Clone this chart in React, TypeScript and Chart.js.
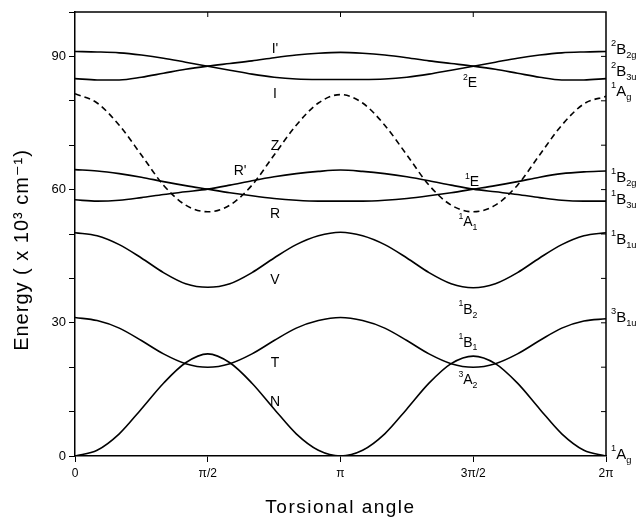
import { useEffect, useRef } from "react";
import { Chart, registerables } from "chart.js";

Chart.register(...registerables);

// Torsional angle in degrees (0 .. 2π)
const angles = [0, 15, 30, 45, 60, 75, 90, 105, 120, 135, 150, 165, 180, 195, 210, 225, 240, 255, 270, 285, 300, 315, 330, 345, 360];

// Energies (x 10^3 cm^-1)
const N = [0, 1.3, 5.0, 10.6, 16.4, 21.0, 23.0, 21.0, 16.4, 10.6, 5.0, 1.3, 0, 1.3, 5.0, 10.6, 16.4, 20.8, 22.5, 20.8, 16.4, 10.6, 5.0, 1.3, 0];
const T = [31.2, 30.5, 28.8, 26.0, 23.0, 20.8, 20.0, 20.8, 23.0, 26.0, 28.8, 30.5, 31.2, 30.5, 28.8, 26.0, 23.0, 20.8, 20.0, 20.8, 23.0, 26.0, 28.8, 30.4, 30.9];
const V = [50.3, 49.6, 47.6, 44.6, 41.3, 38.8, 38.0, 38.8, 41.3, 44.6, 47.6, 49.6, 50.4, 49.6, 47.6, 44.6, 41.3, 38.8, 37.9, 38.8, 41.3, 44.6, 47.6, 49.6, 50.3];
const Z = [81.6, 79.5, 74.5, 67.8, 61.0, 56.5, 55.0, 56.5, 61.0, 67.8, 74.5, 79.5, 81.4, 79.5, 74.5, 67.8, 61.0, 56.5, 55.0, 56.5, 61.0, 67.8, 74.5, 79.3, 81.0];
const Rp = [64.5, 64.2, 63.6, 62.8, 61.8, 60.9, 60.1, 59.3, 58.6, 58.0, 57.6, 57.4, 57.4, 57.4, 57.6, 58.0, 58.6, 59.3, 60.1, 60.9, 61.8, 62.8, 63.6, 64.0, 64.2];
const R = [57.7, 57.4, 57.6, 58.2, 58.9, 59.5, 60.1, 61.0, 62.0, 62.9, 63.6, 64.1, 64.4, 64.1, 63.6, 62.9, 62.0, 61.0, 60.1, 59.5, 58.9, 58.2, 57.6, 57.4, 57.4];
const Ip = [91.1, 91.0, 90.8, 90.3, 89.6, 88.7, 87.8, 86.9, 86.0, 85.3, 84.9, 84.8, 84.8, 84.8, 84.9, 85.3, 86.0, 86.9, 87.8, 88.7, 89.6, 90.3, 90.8, 91.0, 91.1];
const I = [85.0, 84.7, 84.7, 85.3, 86.2, 87.1, 87.8, 88.4, 89.0, 89.7, 90.3, 90.7, 90.9, 90.7, 90.3, 89.7, 89.0, 88.4, 87.8, 87.1, 86.2, 85.3, 84.7, 84.7, 85.0];

// Axis ticks
const xTickValues = [0, 90, 180, 270, 360];
const xTickLabels = ["0", "π/2", "π", "3π/2", "2π"];
const yLabelledTicks = [0, 30, 60, 90];

// Curve labels inside the plot (data coordinates)
const curveLabelText = [
  { sup: "", main: "I'", sub: "" },
  { sup: "", main: "I", sub: "" },
  { sup: "", main: "Z", sub: "" },
  { sup: "", main: "R'", sub: "" },
  { sup: "", main: "R", sub: "" },
  { sup: "", main: "V", sub: "" },
  { sup: "", main: "T", sub: "" },
  { sup: "", main: "N", sub: "" },
  { sup: "2", main: "E", sub: "" },
  { sup: "1", main: "E", sub: "" },
  { sup: "1", main: "A", sub: "1" },
  { sup: "1", main: "B", sub: "2" },
  { sup: "1", main: "B", sub: "1" },
  { sup: "3", main: "A", sub: "2" },
];
const curveLabelX = [135.6, 135.6, 135.6, 111.9, 135.6, 135.6, 135.6, 135.6, 267.8, 269.2, 266.4, 266.4, 266.4, 266.4];
const curveLabelY = [91.6, 81.4, 69.9, 64.1, 54.4, 39.7, 21.0, 12.2, 83.9, 61.6, 52.6, 32.9, 25.5, 17.1];

// State labels at the right edge (2π)
const stateLabelText = [
  { sup: "2", main: "B", sub: "2g" },
  { sup: "2", main: "B", sub: "3u" },
  { sup: "1", main: "A", sub: "g" },
  { sup: "1", main: "B", sub: "2g" },
  { sup: "1", main: "B", sub: "3u" },
  { sup: "1", main: "B", sub: "1u" },
  { sup: "3", main: "B", sub: "1u" },
  { sup: "1", main: "A", sub: "g" },
];
const stateLabelY = [91.4, 86.6, 82.1, 62.7, 57.7, 48.7, 31.1, 0.2];

const yTitle = "Energy ( x 10³ cm⁻¹)";
const xTitle = "Torsional angle";

const FONT = "'Liberation Sans', 'DejaVu Sans', sans-serif";

type Rich = { sup: string; main: string; sub: string };

function richWidth(ctx: CanvasRenderingContext2D, r: Rich, size: number) {
  ctx.font = `${size * 0.62}px ${FONT}`;
  const ws = r.sup ? ctx.measureText(r.sup).width : 0;
  const wb = r.sub ? ctx.measureText(r.sub).width : 0;
  ctx.font = `${size}px ${FONT}`;
  const wm = ctx.measureText(r.main).width;
  return { ws, wm, wb, total: ws + wm + wb };
}

function drawRich(ctx: CanvasRenderingContext2D, r: Rich, x: number, y: number, size: number, align: "left" | "center") {
  const w = richWidth(ctx, r, size);
  let cx = align === "center" ? x - w.total / 2 : x;
  ctx.textAlign = "left";
  ctx.textBaseline = "middle";
  ctx.fillStyle = "#000";
  if (r.sup) {
    ctx.font = `${size * 0.62}px ${FONT}`;
    ctx.fillText(r.sup, cx, y - size * 0.42);
    cx += w.ws;
  }
  ctx.font = `${size}px ${FONT}`;
  ctx.fillText(r.main, cx, y);
  cx += w.wm;
  if (r.sub) {
    ctx.font = `${size * 0.62}px ${FONT}`;
    ctx.fillText(r.sub, cx, y + size * 0.38);
  }
}

const decorPlugin = {
  id: "decor",
  afterDraw(chart: any) {
    const { ctx, chartArea, scales } = chart;
    const xs = scales.x;
    const ys = scales.y;
    ctx.save();
    // top and right frame
    ctx.strokeStyle = "#000";
    ctx.lineWidth = 1.5;
    ctx.beginPath();
    ctx.moveTo(chartArea.left, chartArea.top);
    ctx.lineTo(chartArea.right, chartArea.top);
    ctx.lineTo(chartArea.right, chartArea.bottom);
    ctx.stroke();
    ctx.lineWidth = 1;
    // inward ticks on top
    ctx.beginPath();
    xTickValues.slice(1, -1).forEach((v) => {
      const px = xs.getPixelForValue(v);
      ctx.moveTo(px, chartArea.top);
      ctx.lineTo(px, chartArea.top + 5);
    });
    // inward ticks on right
    for (let v = 10; v < 100; v += 10) {
      const py = ys.getPixelForValue(v);
      ctx.moveTo(chartArea.right, py);
      ctx.lineTo(chartArea.right - 5, py);
    }
    ctx.stroke();

    // curve labels
    curveLabelText.forEach((r, i) => {
      drawRich(ctx, r, xs.getPixelForValue(curveLabelX[i]), ys.getPixelForValue(curveLabelY[i]), 14, "center");
    });
    // state labels at right
    stateLabelText.forEach((r, i) => {
      drawRich(ctx, r, chartArea.right + 5, ys.getPixelForValue(stateLabelY[i]), 15, "left");
    });

    // axis titles
    ctx.fillStyle = "#000";
    ctx.textAlign = "center";
    ctx.textBaseline = "middle";
    ctx.font = `19px ${FONT}`;
    (ctx as any).letterSpacing = "1.5px";
    ctx.fillText(xTitle, (chartArea.left + chartArea.right) / 2, 508);
    ctx.font = `20px ${FONT}`;
    (ctx as any).letterSpacing = "1px";
    ctx.save();
    ctx.translate(22, 250);
    ctx.rotate(-Math.PI / 2);
    ctx.fillText(yTitle, 0, 0);
    ctx.restore();
    (ctx as any).letterSpacing = "0px";
    ctx.restore();
  },
};

function mk(values: number[], dashed = false) {
  return {
    data: angles.map((a, i) => ({ x: a, y: values[i] })),
    borderColor: "#000",
    borderWidth: 1.6,
    borderDash: dashed ? [6, 4] : [],
    pointRadius: 0,
    fill: false,
    cubicInterpolationMode: "monotone" as const,
  };
}

export default function App() {
  const ref = useRef<HTMLCanvasElement | null>(null);
  useEffect(() => {
    if (!ref.current) return;
    const chart = new Chart(ref.current, {
      type: "line",
      data: {
        datasets: [mk(N), mk(T), mk(V), mk(Z, true), mk(Rp), mk(R), mk(Ip), mk(I)],
      },
      options: {
        responsive: false,
        animation: false,
        layout: { padding: { top: 12, right: 32, left: 0, bottom: 0 } },
        plugins: { legend: { display: false }, tooltip: { enabled: false } },
        scales: {
          x: {
            type: "linear",
            min: 0,
            max: 360,
            afterBuildTicks: (s: any) => {
              s.ticks = xTickValues.map((v) => ({ value: v }));
            },
            afterFit: (s: any) => {
              s.height = 63;
            },
            ticks: {
              callback: (v: any) => {
                const i = xTickValues.indexOf(Number(v));
                return i >= 0 ? xTickLabels[i] : "";
              },
              color: "#000",
              font: { family: FONT, size: 12 },
              padding: 4,
              maxRotation: 0,
              autoSkip: false,
            },
            grid: { drawOnChartArea: false, drawTicks: true, tickLength: 6, color: "#000", lineWidth: 1 },
            border: { display: true, color: "#000", width: 1.5 },
          },
          y: {
            min: 0,
            max: 100,
            afterFit: (s: any) => {
              s.width = 75;
            },
            ticks: {
              stepSize: 10,
              callback: (v: any) => (yLabelledTicks.includes(Number(v)) ? String(v) : ""),
              color: "#000",
              font: { family: FONT, size: 13 },
              padding: 3,
            },
            grid: { drawOnChartArea: false, drawTicks: true, tickLength: 6, color: "#000", lineWidth: 1 },
            border: { display: true, color: "#000", width: 1.5 },
          },
        },
      },
      plugins: [decorPlugin],
    });
    return () => chart.destroy();
  }, []);
  return (
    <div style={{ position: "absolute", left: 0, top: 0, width: 638, height: 519, background: "#fff" }}>
      <canvas ref={ref} width={638} height={519} style={{ width: 638, height: 519, display: "block" }} />
    </div>
  );
}
